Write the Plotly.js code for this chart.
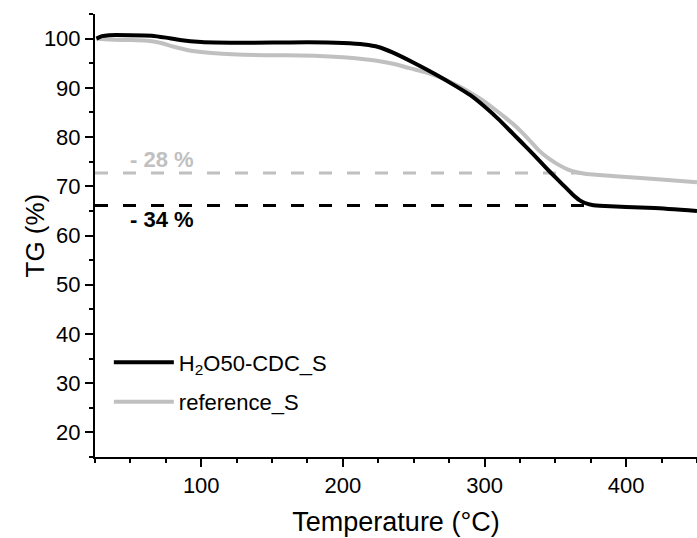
<!DOCTYPE html>
<html>
<head>
<meta charset="utf-8">
<script src="https://cdn.plot.ly/plotly-3.0.1.min.js"></script>
<style>html,body{margin:0;padding:0;background:#fff;}#chart{width:697px;height:538px;}</style>
</head>
<body>
<div id="chart"></div>
<script>
// Temperature (°C) and TG (%)
const tempCDC = [26, 30, 35, 50, 65, 75, 85, 100, 125, 150, 175, 200, 215, 225, 235, 250, 265, 280, 290, 300, 310, 320, 330, 340, 347, 355, 362, 367, 371, 376, 385, 400, 420, 450];
const tgCDC   = [100.0, 100.5, 100.7, 100.7, 100.6, 100.2, 99.7, 99.3, 99.15, 99.2, 99.25, 99.1, 98.8, 98.3, 97.2, 95.1, 92.8, 90.3, 88.5, 86.2, 83.6, 80.7, 77.8, 74.8, 72.7, 70.4, 68.4, 67.2, 66.6, 66.2, 66.0, 65.8, 65.6, 65.0];

const tempRef = [26, 35, 50, 60, 70, 80, 90, 100, 115, 130, 160, 180, 200, 215, 226, 237, 247, 258, 268, 282, 290, 298, 306, 314, 322, 330, 338, 345, 352, 359, 366, 372, 381, 395, 420, 450];
const tgRef   = [100.0, 99.8, 99.7, 99.6, 99.2, 98.4, 97.7, 97.3, 96.9, 96.7, 96.6, 96.5, 96.2, 95.8, 95.4, 94.8, 94.0, 93.2, 92.2, 90.3, 89.0, 87.6, 85.9, 84.1, 82.2, 79.9, 77.4, 75.7, 74.4, 73.4, 72.8, 72.5, 72.3, 72.0, 71.5, 70.8];

// mass-loss guide levels
const lossStart = 25;
const lossEndCDC = 371, lossLevelCDC = 66.1, lossLabelCDC = "- 34 %";
const lossEndRef = 369, lossLevelRef = 72.7, lossLabelRef = "- 28 %";

const seriesNames = ["H<sub>2</sub>O50-CDC_S", "reference_S"];
const xTickVals = [100, 200, 300, 400];
const yTickVals = [20, 30, 40, 50, 60, 70, 80, 90, 100];
const xTitle = "Temperature (°C)";
const yTitle = "TG (%)";

const BLACK = "#000000", GREY = "#c0c0c0";
const FONT = "Liberation Sans, Arial, sans-serif";

const traces = [
  {x: [lossStart, lossEndRef], y: [lossLevelRef, lossLevelRef], mode: "lines", showlegend: false, hoverinfo: "skip",
   line: {color: GREY, width: 3, dash: "13px,15px"}},
  {x: [lossStart, lossEndCDC], y: [lossLevelCDC, lossLevelCDC], mode: "lines", showlegend: false, hoverinfo: "skip",
   line: {color: BLACK, width: 3, dash: "13px,15px"}},
  {x: tempRef, y: tgRef, mode: "lines", name: seriesNames[1], legendrank: 2, legendgroup: "b",
   line: {color: GREY, width: 4, shape: "spline", smoothing: 0.5}},
  {x: tempCDC, y: tgCDC, mode: "lines", name: seriesNames[0], legendrank: 1, legendgroup: "a",
   line: {color: BLACK, width: 4, shape: "spline", smoothing: 0.5}}
];

const layout = {
  width: 697, height: 538,
  margin: {l: 95, r: 0, t: 14, b: 81, pad: 0},
  paper_bgcolor: "#fff", plot_bgcolor: "#fff",
  font: {family: FONT, size: 22, color: "#000"},
  showlegend: true,
  legend: {x: 0.023, y: 0.261, xanchor: "left", yanchor: "top", bgcolor: "rgba(0,0,0,0)",
           font: {family: FONT, size: 22, color: "#000"}, itemwidth: 60, tracegroupgap: 8,
           traceorder: "grouped"},
  xaxis: {
    range: [25, 450], tickvals: xTickVals, ticktext: xTickVals.map(String),
    ticks: "outside", ticklen: 8, tickwidth: 2, tickcolor: "#000",
    showline: true, linewidth: 2, linecolor: "#000", showgrid: false, zeroline: false,
    minor: {dtick: 25, tick0: 0, ticks: "outside", ticklen: 4, tickwidth: 2, tickcolor: "#000", showgrid: false},
    tickfont: {size: 22},
    title: {text: xTitle, font: {size: 27}, standoff: 15}
  },
  yaxis: {
    range: [15, 105], tickvals: yTickVals, ticktext: yTickVals.map(String),
    ticks: "outside", ticklen: 8, tickwidth: 2, tickcolor: "#000",
    showline: true, linewidth: 2, linecolor: "#000", showgrid: false, zeroline: false,
    minor: {dtick: 5, tick0: 0, ticks: "outside", ticklen: 4, tickwidth: 2, tickcolor: "#000", showgrid: false},
    tickfont: {size: 22}
  },
  annotations: [
    {x: -0.0997, y: 0.5, xref: "paper", yref: "paper", text: yTitle, textangle: -90, showarrow: false,
     xanchor: "center", yanchor: "middle", font: {size: 26, color: "#000", family: FONT}},
    {x: 48, y: 75.4, xref: "x", yref: "y", text: "<b>" + lossLabelRef + "</b>", showarrow: false,
     xanchor: "left", yanchor: "middle", font: {size: 22, color: GREY, family: FONT}},
    {x: 48, y: 63.3, xref: "x", yref: "y", text: "<b>" + lossLabelCDC + "</b>", showarrow: false,
     xanchor: "left", yanchor: "middle", font: {size: 22, color: BLACK, family: FONT}}
  ]
};

Plotly.newPlot("chart", traces, layout, {displayModeBar: false, staticPlot: true});
</script>
</body>
</html>
